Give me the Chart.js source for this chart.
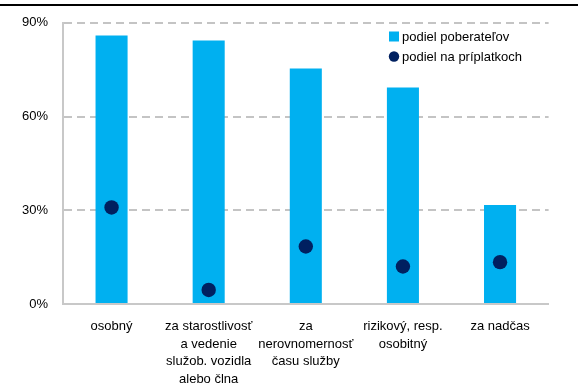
<!DOCTYPE html>
<html>
<head>
<meta charset="utf-8">
<script src="https://cdn.jsdelivr.net/npm/chart.js@4/dist/chart.umd.min.js"></script>
<style>
  html, body { margin: 0; padding: 0; background: #ffffff; }
  #wrap { position: relative; width: 578px; height: 385px; }
  #rule { position: absolute; left: 0; top: 4px; width: 578px; height: 2px; background: #000000; }
  canvas { display: block; }
</style>
</head>
<body>
<div id="wrap"><canvas id="c" width="578" height="385"></canvas><div id="rule"></div></div>
<script>
// Categories (príplatky) – multi-line labels
const categories = [
  ['osobný'],
  ['za starostlivosť', 'a vedenie', 'služob. vozidla', 'alebo člna'],
  ['za', 'nerovnomernosť', 'času služby'],
  ['rizikový, resp.', 'osobitný'],
  ['za nadčas']
];

// Share of recipients (%)
const podielPoberatelov = [85.9, 84.3, 75.4, 69.3, 31.7];
// Share on allowances (%)
const podielNaPriplatkoch = [30.9, 4.5, 18.4, 12.0, 13.4];

const yTicks = [0, 30, 60, 90];

const FONT = "'Liberation Sans', Arial, sans-serif";

// Legend drawn inside the plot area, upper right (bars first, then dots)
const insideLegend = {
  id: 'insideLegend',
  afterDraw(chart) {
    const ctx = chart.ctx;
    const ds = chart.data.datasets.slice().sort((a, b) => b.order - a.order);
    const x0 = 389, y0 = 36.5, rowGap = 20;
    ctx.save();
    ctx.font = '13px ' + FONT;
    ctx.textBaseline = 'middle';
    ctx.textAlign = 'left';
    ds.forEach((d, i) => {
      const y = y0 + i * rowGap;
      if (d.type === 'bar') {
        ctx.fillStyle = d.backgroundColor;
        ctx.fillRect(x0, y - 5, 10, 10);
      } else {
        ctx.fillStyle = d.pointBackgroundColor;
        ctx.beginPath();
        ctx.arc(x0 + 5, y, 5.2, 0, Math.PI * 2);
        ctx.fill();
      }
      ctx.fillStyle = '#000000';
      ctx.fillText(d.label, x0 + 13, y + 0.5);
    });
    ctx.restore();
  }
};

new Chart(document.getElementById('c'), {
  data: {
    labels: categories,
    datasets: [
      {
        type: 'line',
        label: 'podiel na príplatkoch',
        data: podielNaPriplatkoch,
        showLine: false,
        pointRadius: 7.2,
        pointHoverRadius: 7.2,
        pointBackgroundColor: '#002060',
        pointBorderWidth: 0,
        borderColor: '#002060',
        order: 0
      },
      {
        type: 'bar',
        label: 'podiel poberateľov',
        data: podielPoberatelov,
        backgroundColor: '#00B0F0',
        borderWidth: 0,
        barPercentage: 0.33,
        categoryPercentage: 1,
        order: 1
      }
    ]
  },
  options: {
    responsive: false,
    animation: false,
    devicePixelRatio: 1,
    layout: { padding: { top: 21, right: 29.4, bottom: 0, left: 0 } },
    plugins: {
      legend: { display: false },
      tooltip: { enabled: false }
    },
    scales: {
      x: {
        offset: true,
        grid: { display: false, drawTicks: false },
        border: { display: true, color: '#c8c8c8', width: 2 },
        ticks: {
          color: '#000000',
          font: { family: FONT, size: 13, lineHeight: 1.34 },
          padding: 14,
          maxRotation: 0,
          autoSkip: false
        },
        afterFit(scale) { scale.height = 81; }
      },
      y: {
        min: 0,
        max: 90,
        afterBuildTicks(scale) { scale.ticks = yTicks.map(v => ({ value: v })); },
        grid: {
          color: (c) => c.tick && c.tick.value === 0 ? 'rgba(0,0,0,0)' : '#c4c4c4',
          lineWidth: 2,
          drawTicks: false
        },
        border: { display: true, color: '#c8c8c8', width: 2, dash: [8, 5], dashOffset: 0 },
        ticks: {
          color: '#000000',
          font: { family: FONT, size: 13 },
          padding: 15,
          callback: (v) => v + '%'
        },
        afterFit(scale) { scale.width = 63; }
      }
    }
  },
  plugins: [insideLegend]
});
</script>
</body>
</html>
